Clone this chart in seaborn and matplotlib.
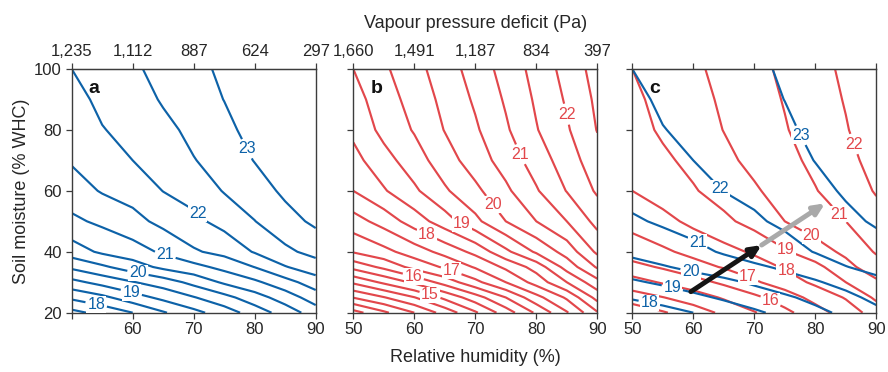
import numpy as np
import seaborn as sns
import matplotlib
matplotlib.use("Agg")
import matplotlib.pyplot as plt

# ----------------------------------------------------------------
# Data (values of each field on a coarse grid)
# ----------------------------------------------------------------
rh = [50, 55, 60, 65, 70, 75, 80, 85, 90]              # relative humidity (%)
sm = [20, 25, 30, 35, 40, 50, 60, 70, 80, 90, 100]     # soil moisture (% WHC)

# panel a field (rows follow sm, columns follow rh)
field_a = [
    [17.35, 17.66, 18.00, 18.45, 18.85, 19.25, 19.73, 20.22, 20.75],
    [18.10, 18.38, 18.78, 19.13, 19.47, 19.84, 20.28, 20.74, 21.25],
    [18.85, 19.17, 19.47, 19.74, 20.15, 20.58, 20.90, 21.31, 21.76],
    [19.60, 19.91, 20.26, 20.62, 20.84, 21.15, 21.51, 21.97, 22.28],
    [20.25, 20.59, 20.78, 21.08, 21.44, 21.65, 22.04, 22.40, 22.65],
    [20.90, 21.10, 21.34, 21.64, 21.88, 22.17, 22.49, 22.81, 23.10],
    [21.27, 21.54, 21.70, 22.01, 22.20, 22.53, 22.76, 23.10, 23.30],
    [21.55, 21.76, 22.00, 22.19, 22.48, 22.69, 23.02, 23.30, 23.50],
    [21.70, 21.98, 22.13, 22.37, 22.62, 22.85, 23.20, 23.45, 23.65],
    [21.85, 22.10, 22.27, 22.55, 22.73, 23.01, 23.35, 23.60, 23.80],
    [22.00, 22.20, 22.40, 22.70, 22.85, 23.10, 23.50, 23.75, 23.95],
]

# panel b field
field_b = [
    [12.30, 12.90, 13.50, 14.20, 14.93, 15.75, 16.58, 17.45, 18.45],
    [13.52, 13.97, 14.48, 15.12, 15.78, 16.50, 17.33, 18.08, 19.18],
    [14.59, 15.10, 15.60, 16.20, 16.86, 17.50, 18.20, 19.00, 19.83],
    [15.66, 16.12, 16.67, 17.07, 17.55, 18.10, 18.70, 19.70, 20.56],
    [16.54, 16.85, 17.24, 17.67, 18.14, 18.88, 19.58, 20.20, 21.10],
    [17.29, 17.70, 18.24, 18.77, 19.37, 20.00, 20.50, 21.00, 21.66],
    [18.00, 18.45, 18.91, 19.43, 19.88, 20.40, 20.95, 21.52, 22.07],
    [18.34, 18.81, 19.27, 19.77, 20.25, 20.71, 21.23, 21.75, 22.30],
    [18.61, 19.15, 19.54, 20.02, 20.43, 20.93, 21.47, 21.94, 22.52],
    [18.80, 19.28, 19.68, 20.14, 20.57, 21.06, 21.57, 22.06, 22.60],
    [19.00, 19.42, 19.83, 20.26, 20.71, 21.19, 21.67, 22.18, 22.70],
]

# contour levels: labelled ones and the plain ones
lab_levels_a = [18, 19, 20, 21, 22, 23]
plain_levels_a = [17.5, 18.5, 19.5, 20.5, 21.5, 22.5]
lab_levels_b = [15, 16, 17, 18, 19, 20, 21, 22]
plain_levels_b = [12.5, 13, 13.5, 14, 14.5, 15.5, 16.5, 17.5, 18.5, 19.5,
                  20.5, 21.5, 22.5]
lab_levels_c_a = [18, 19, 20, 21, 22, 23]
lab_levels_c_b = [16, 17, 18, 19, 20, 21, 22]
plain_levels_c_b = [13, 14, 15]

rh_ticks = [50, 60, 70, 80, 90]
sm_ticks = [20, 40, 60, 80, 100]
vpd_labels_a = ["1,235", "1,112", "887", "624", "297"]
vpd_labels_b = ["1,660", "1,491", "1,187", "834", "397"]

# shift shown by the arrows in panel c (start, middle, end)
arrow_rh = [59.6, 71.2, 81.6]
arrow_sm = [26.9, 42.2, 55.9]

# ----------------------------------------------------------------
# Layout / style
# ----------------------------------------------------------------
sns.set_style("ticks")
plt.rcParams["font.family"] = ["Liberation Sans", "DejaVu Sans"]

BLUE = "#0d62a8"
RED = "#e2474b"
SPINE = "#3c3c3c"
LW = 1.55

# where the contour labels sit
lab_a = [(78.9, 74.0), (70.7, 52.6), (65.3, 38.7), (60.9, 33.5), (59.8, 26.9), (54.1, 23.6)]
lab_b = [(84.4, 84.9), (77.4, 72.0), (72.9, 55.6), (67.8, 49.1), (61.8, 44.5),
         (66.0, 33.5), (59.9, 32.4), (62.6, 26.0)]
lab_c_a = [(77.7, 78.3), (64.4, 60.8), (60.3, 41.5), (59.7, 34.3), (56.6, 28.5), (52.8, 23.3)]
lab_c_b = [(85.8, 75.0), (83.2, 51.0), (79.1, 44.4), (74.7, 39.2), (74.8, 32.4),
           (69.1, 32.4), (72.6, 23.6)]

fig = plt.figure(figsize=(8.88, 3.72), dpi=100)
lefts = [71.7 / 888, 353.3 / 888, 632.3 / 888]
w, h = 244 / 888, 243.7 / 372
bottom = 1 - 312.7 / 372
axes = [fig.add_axes([l, bottom, w, h]) for l in lefts]

X, Y = np.meshgrid(rh, sm)
A = np.array(field_a)
B = np.array(field_b)


def contour_set(ax, Z, color, lab_levels, label_pos, plain_levels=None):
    if plain_levels:
        ax.contour(X, Y, Z, levels=plain_levels, colors=color, linewidths=LW)
    cs = ax.contour(X, Y, Z, levels=lab_levels, colors=color, linewidths=LW)
    texts = ax.clabel(cs, manual=label_pos, inline=True, inline_spacing=2,
                      fmt="%d", fontsize=11.5, colors=color)
    # labels in the reference are upright with a white patch behind them
    for t in texts:
        t.set_rotation(0)
        t.set_bbox(dict(facecolor="white", edgecolor="none", pad=0.6))
    return cs


contour_set(axes[0], A, BLUE, lab_levels_a, lab_a, plain_levels_a)
contour_set(axes[1], B, RED, lab_levels_b, lab_b, plain_levels_b)
contour_set(axes[2], B, RED, lab_levels_c_b, lab_c_b, plain_levels_c_b)
contour_set(axes[2], A, BLUE, lab_levels_c_a, lab_c_a)

# arrows in panel c
head = "-|>,head_length=0.65,head_width=0.3"
axes[2].annotate("", xy=(arrow_rh[1], arrow_sm[1]), xytext=(arrow_rh[0], arrow_sm[0]),
                 arrowprops=dict(arrowstyle=head, lw=3.5, color="#151515",
                                 shrinkA=0, shrinkB=0))
axes[2].annotate("", xy=(arrow_rh[2], arrow_sm[2]), xytext=(arrow_rh[1], arrow_sm[1]),
                 arrowprops=dict(arrowstyle=head, lw=3.5, color="#a9a9a9",
                                 shrinkA=0, shrinkB=0))

for i, ax in enumerate(axes):
    ax.set_xlim(50, 90)
    ax.set_ylim(20, 100)
    ax.set_xticks(rh_ticks)
    ax.set_yticks(sm_ticks)
    for s in ax.spines.values():
        s.set_visible(True)
        s.set_color(SPINE)
        s.set_linewidth(1.0)
    ax.tick_params(direction="out", length=4, width=0.9, color=SPINE,
                   labelsize=12, pad=3, right=False)
    ax.text(0.07, 0.955, "abc"[i], transform=ax.transAxes, fontsize=14,
            fontweight="bold", va="top", ha="left", color="#111111")
    if i > 0:
        ax.set_yticklabels([])
    top = ax.secondary_xaxis("top")
    top.spines["top"].set_color(SPINE)
    top.tick_params(direction="out", length=4, width=0.9, color=SPINE,
                    labelsize=12, pad=3)
    if i == 0:
        top.set_xticks(rh_ticks, labels=vpd_labels_a)
    elif i == 1:
        top.set_xticks(rh_ticks, labels=vpd_labels_b)
        top.set_xlabel("Vapour pressure deficit (Pa)", fontsize=13, labelpad=12)
    else:
        top.set_xticks(rh_ticks, labels=[])

axes[0].set_xticklabels([""] + [str(t) for t in rh_ticks[1:]])
axes[0].set_ylabel("Soil moisture (% WHC)", fontsize=13, labelpad=3)
axes[1].set_xlabel("Relative humidity (%)", fontsize=13, labelpad=8)

plt.savefig("out.png", dpi=100)
